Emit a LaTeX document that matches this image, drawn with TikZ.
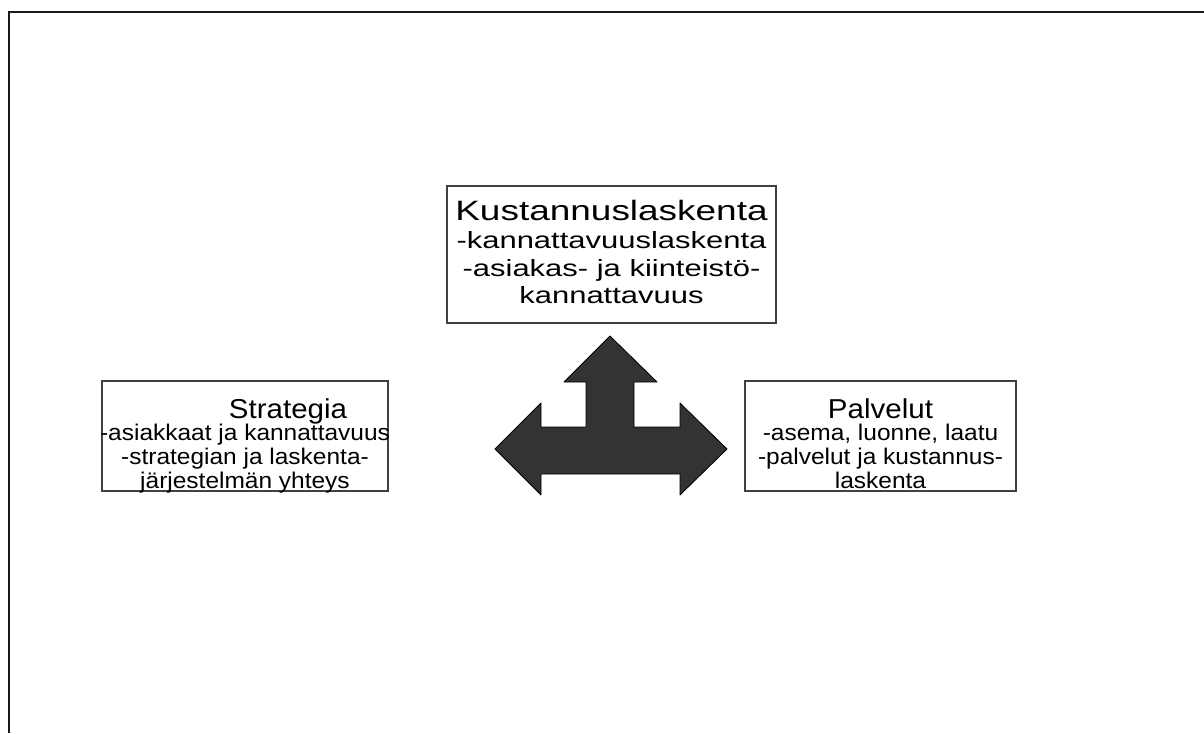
\documentclass[tikz,border=0pt]{standalone}
\usepackage{fontspec}
\setmainfont{Liberation Sans}
\newfontfamily\widefont[FakeStretch=1.32]{Liberation Sans}
\newfontfamily\sidefont[FakeStretch=1.08]{Liberation Sans}

\begin{document}
\begin{tikzpicture}[x=0.75pt,y=-0.75pt,
  frameline/.style={line width=1.2pt, draw=black!90},
  panel/.style={draw=black!75, line width=0.8pt, fill=white, inner sep=0pt},
  paneltext/.style={inner sep=0pt, align=center, anchor=north},
  bigarrow/.style={fill=black!80, draw=black, line width=0.6pt, line join=round}]
\useasboundingbox (0,0) rectangle (1204,733);

% page frame (top and left edges)
\draw[frameline] (9,733) -- (9,12) -- (1204,12);

% the three panels
\node[panel, minimum width=246.75pt, minimum height=102.75pt] (cost) at (611.5,254.5) {};
\node[panel, minimum width=214.5pt, minimum height=82.5pt] (strategy) at (245,436) {};
\node[panel, minimum width=203.25pt, minimum height=82.5pt] (services) at (880.5,436) {};

% panel texts
\node[paneltext, font={\widefont\fontsize{17.6}{20.6}\selectfont}] (cost-text) at (611.5,200)
  {{\fontsize{21}{21}\selectfont Kustannuslaskenta}\\[0.4pt]
   -kannattavuuslaskenta\\
   -asiakas- ja kiinteistö-\\
   kannattavuus};
\node[paneltext, font={\sidefont\fontsize{17}{18}\selectfont}] (strategy-text) at (245,398)
  {{\fontsize{20.5}{20.5}\selectfont\hspace*{64.5pt}Strategia}\\[-1.5pt]
   -asiakkaat ja kannattavuus\\
   -strategian ja laskenta-\\
   järjestelmän yhteys};
\node[paneltext, font={\sidefont\fontsize{17}{18}\selectfont}] (services-text) at (880.5,398)
  {{\fontsize{20.5}{20.5}\selectfont Palvelut}\\[-1.5pt]
   -asema, luonne, laatu\\
   -palvelut ja kustannus-\\
   laskenta};

% three-way block arrow between the panels
\draw[bigarrow] (610,336) -- (657,382) -- (634,382) -- (634,427) -- (680,427)
  -- (680,403) -- (727,449) -- (680,495) -- (680,474) -- (541,474) -- (541,495)
  -- (495,449) -- (541,403) -- (541,427) -- (586,427) -- (586,382) -- (564,382) -- cycle;
\end{tikzpicture}
\end{document}
